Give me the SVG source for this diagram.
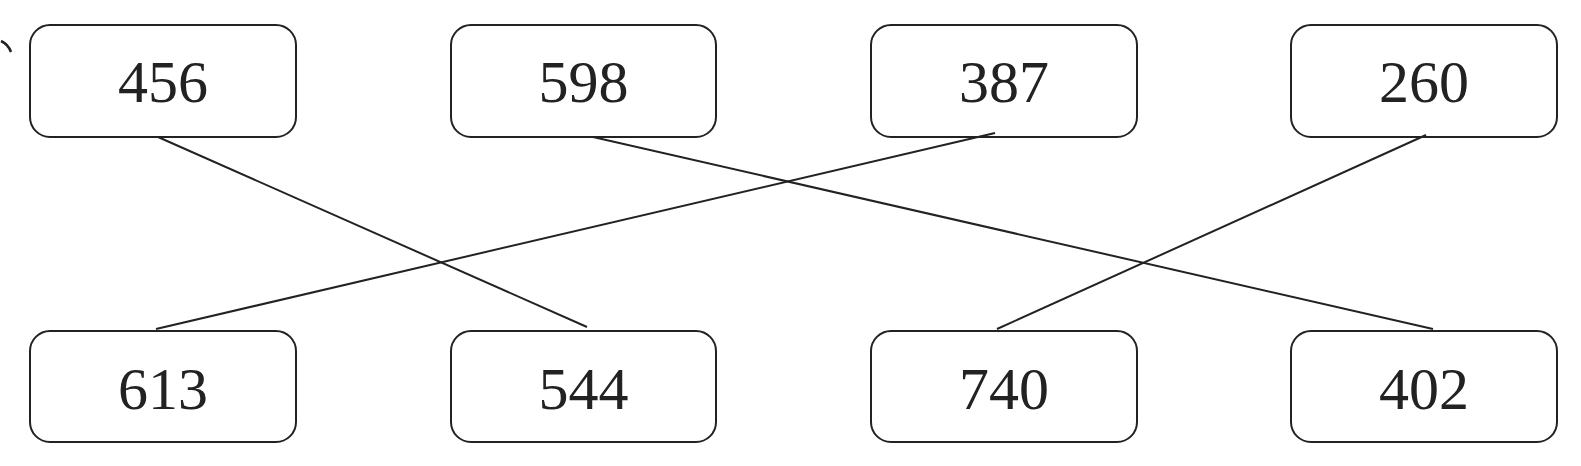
<svg xmlns="http://www.w3.org/2000/svg" width="1581" height="466" viewBox="0 0 1581 466">
<style>
.box{fill:#fff;stroke:#222;stroke-width:2}
.lbl{font-family:"Liberation Serif","DejaVu Serif",serif;font-size:60px;fill:#222;text-anchor:middle}
.edge{stroke:#222;stroke-width:2;fill:none}
</style>
<rect width="1581" height="466" fill="#fff"/>
<path d="M1,41 Q8,44 11,52" fill="none" stroke="#222" stroke-width="2.5"/>
<g id="n456"><rect class="box" x="30" y="25" width="266" height="112" rx="20"/><text class="lbl" x="163" y="102">456</text></g>
<g id="n598"><rect class="box" x="451" y="25" width="265" height="112" rx="20"/><text class="lbl" x="583.5" y="102">598</text></g>
<g id="n387"><rect class="box" x="871" y="25" width="266" height="112" rx="20"/><text class="lbl" x="1004" y="102">387</text></g>
<g id="n260"><rect class="box" x="1291" y="25" width="266" height="112" rx="20"/><text class="lbl" x="1424" y="102">260</text></g>
<g id="n613"><rect class="box" x="30" y="331" width="266" height="111" rx="20"/><text class="lbl" x="163" y="409">613</text></g>
<g id="n544"><rect class="box" x="451" y="331" width="265" height="111" rx="20"/><text class="lbl" x="583.5" y="409">544</text></g>
<g id="n740"><rect class="box" x="871" y="331" width="266" height="111" rx="20"/><text class="lbl" x="1004" y="409">740</text></g>
<g id="n402"><rect class="box" x="1291" y="331" width="266" height="111" rx="20"/><text class="lbl" x="1424" y="409">402</text></g>
<g id="connectors">
<line class="edge" x1="158" y1="137" x2="587" y2="327"/>
<line class="edge" x1="593" y1="137" x2="1433" y2="329"/>
<line class="edge" x1="995" y1="133" x2="156" y2="329"/>
<line class="edge" x1="1426" y1="135" x2="997" y2="329"/>
</g>
</svg>
